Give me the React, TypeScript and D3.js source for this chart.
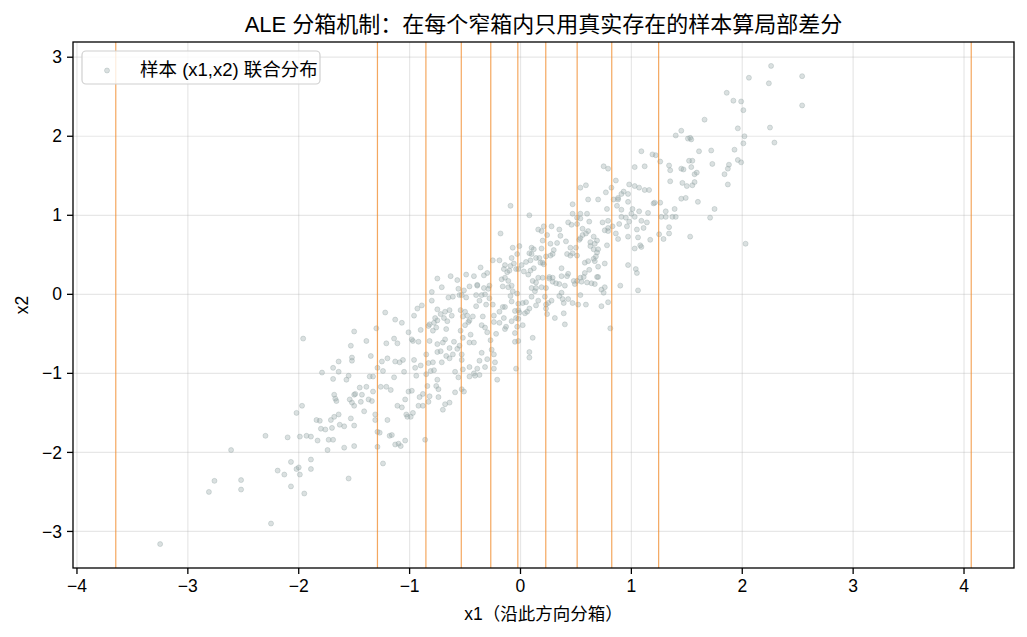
import React from "react";
import * as d3 from "d3";

// x1, x2 pairs
const samples: [number, number][] = [
  [-3.25,-3.16],[-2.25,-2.90],[-2.81,-2.50],[-2.76,-2.36],[-2.52,-2.35],[-2.52,-2.47],[-2.61,-1.97],[-2.30,-1.79],[-2.10,-1.81],[-1.99,-1.80],
  [-1.93,-1.79],[-1.89,-1.80],[-1.83,-1.85],[-1.74,-1.97],[-1.73,-1.84],[-1.69,-1.84],[-1.59,-1.94],[-1.50,-1.92],[-1.55,-2.33],[-2.07,-2.12],
  [-2.19,-2.23],[-2.13,-2.28],[-2.02,-2.21],[-2.00,-2.19],[-1.99,-2.28],[-1.89,-2.09],[-1.89,-2.21],[-2.07,-2.43],[-1.95,-2.52],[-1.96,-0.56],
  [-2.02,-1.50],[-1.97,-1.41],[-1.84,-1.59],[-1.81,-1.60],[-1.79,-0.99],[-1.80,-1.70],[-1.76,-1.71],[-1.71,-1.59],[-1.70,-1.69],[-1.68,-1.55],
  [-1.64,-1.52],[-1.63,-1.65],[-1.59,-1.67],[-1.53,-1.57],[-1.50,-1.66],[-1.69,-0.93],[-1.64,-0.85],[-1.64,-0.98],[-1.69,-1.07],[-1.57,-1.08],
  [-1.55,-1.03],[-1.52,-0.80],[-1.52,-0.84],[-1.50,-0.47],[-1.53,-0.65],[-1.68,-1.27],[-1.67,-1.32],[-1.66,-1.35],[-1.54,-1.33],[-1.52,-1.37],
  [-1.50,-1.41],[-1.50,-1.27],[-1.49,-1.26],[-1.45,-1.18],[-1.43,-1.27],[-1.44,-1.36],[-1.41,-1.48],[-1.39,-1.17],[-1.39,-0.59],[-1.37,-1.33],
  [-1.36,-1.04],[-1.35,-0.78],[-1.34,-1.35],[-1.33,-1.04],[-1.33,-1.23],[-1.31,-1.52],[-1.31,-1.59],[-1.30,-0.43],[-1.29,-0.93],[-1.29,-1.74],
  [-1.27,-1.75],[-1.29,-1.93],[-1.24,-2.14],[-1.26,-1.17],[-1.25,-0.85],[-1.24,-0.97],[-1.22,-0.23],[-1.21,-0.62],[-1.21,-1.17],[-1.20,-0.81],
  [-1.20,-1.59],[-1.17,-1.21],[-1.18,-1.79],[-1.16,-1.78],[-1.14,-0.56],[-1.14,-1.05],[-1.13,-0.32],[-1.13,-0.85],[-1.13,-1.90],[-1.11,-0.62],
  [-1.11,-1.41],[-1.10,-1.89],[-1.09,-0.86],[-1.08,-1.92],[-1.07,-0.36],[-1.07,-1.43],[-1.06,-0.83],[-1.05,-0.98],[-1.04,-1.85],[-1.04,-1.33],
  [-1.03,-1.52],[-1.02,-1.55],[-1.01,-0.48],[-1.01,-1.23],[-0.99,-1.55],[-0.98,-0.57],[-0.98,-1.22],[-0.97,-0.59],[-0.97,-1.50],[-0.96,-0.27],
  [-0.96,-0.83],[-0.95,-0.93],[-0.94,-1.03],[-0.93,-0.18],[-0.92,-0.60],[-0.92,-1.41],[-0.91,-1.30],[-0.90,-0.45],[-0.90,-0.90],[-0.89,-0.14],
  [-0.88,-1.41],[-0.88,-1.26],[-0.86,-1.84],[-0.85,-0.76],
  [0.75,1.62],[0.79,1.59],[1.03,1.61],[1.12,1.62],[1.26,1.68],[1.34,1.63],[1.35,1.57],[1.45,1.59],[1.47,1.58],[1.52,1.69],
  [1.55,1.69],[1.54,1.61],[1.57,1.52],[1.59,1.54],[1.73,1.65],[1.84,1.52],[1.87,1.39],[1.46,1.41],[1.50,1.37],[1.55,1.38],
  [1.57,1.42],[1.35,1.43],[1.49,1.22],[1.45,1.21],[1.60,1.17],[1.53,0.73],[1.71,0.97],[1.75,1.08],[1.26,1.16],[1.21,1.16],
  [1.20,1.15],[1.39,1.08],[1.31,1.05],[1.37,0.98],[1.40,0.98],[1.31,0.98],[1.27,0.98],[1.34,0.85],[1.34,0.77],[1.29,0.70],
  [1.25,0.76],[1.14,0.91],[1.15,1.03],[1.09,0.93],[1.07,1.05],[1.01,1.08],[1.00,1.02],[1.03,0.98],[1.07,1.35],[1.12,1.32],
  [1.16,1.32],[0.98,1.39],[1.03,1.37],[0.97,1.27],[0.93,1.30],[0.91,1.27],[0.88,1.20],[0.88,1.22],[0.86,1.44],[0.82,1.35],
  [0.77,1.29],[0.84,1.20],[0.87,1.12],[0.97,1.17],[0.91,1.07],[0.91,0.98],[0.95,0.97],[0.98,0.92],[0.96,0.86],[0.97,0.73],
  [0.89,0.89],[0.86,0.77],[0.88,0.70],[1.05,0.82],[1.11,0.84],[1.06,0.72],[1.03,0.58],[1.08,0.62],[1.09,0.60],[1.17,0.69],
  [0.97,0.37],[1.04,0.32],[1.05,0.27],[1.06,0.05],[0.90,0.11],[0.81,-0.43],[0.79,-0.10],[0.73,-0.15],[0.75,0.02],[0.76,0.09],
  [0.73,0.06],[0.76,0.39],[0.70,0.22],[0.69,0.22],[0.67,0.13],[0.64,0.14],[0.68,0.48],[0.67,0.42],[0.70,0.35],[0.69,0.53],
  [0.66,0.45],[0.61,0.42],[0.58,0.40],[0.62,0.31],[0.58,0.27],[0.57,0.22],[0.55,0.16],[0.54,0.21],[0.54,-0.01],[0.59,-0.13],
  [0.52,-0.13],[0.47,-0.11],[0.43,-0.06],[0.39,-0.11],[0.38,-0.06],[0.39,-0.24],[0.31,-0.30],[0.40,-0.38],[0.37,0.02],[0.35,-0.02],
  [0.28,-0.08],[0.25,-0.11],[0.23,-0.13],[0.23,-0.18],[0.24,-0.25],[0.22,-0.03],[0.19,0.09],[0.23,0.08],[0.26,0.20],[0.29,0.16],
  [0.32,0.14],[0.35,0.13],[0.40,0.11],[0.42,0.23],[0.37,0.23],[0.29,0.21],[0.26,0.22],[0.37,0.33],[0.43,0.26],[0.48,0.17],
  [0.49,0.13],[0.51,0.17],[0.60,0.15],[0.45,0.49],[0.47,0.52],[0.51,0.49],[0.50,0.59],[0.54,0.71],[0.53,0.69],[0.56,0.75],
  [0.59,0.77],[0.61,0.80],[0.63,0.66],[0.63,0.61],[0.67,0.64],[0.70,0.57],[0.66,0.57],[0.66,0.73],[0.62,0.92],[0.60,1.02],
  [0.54,1.02],[0.54,0.96],[0.51,0.97],[0.47,1.02],[0.43,0.91],[0.46,0.88],[0.47,1.14],[0.54,1.35],[0.59,1.38],[0.61,1.20],
  [0.70,1.20],[0.79,0.93],[0.78,1.08],[0.74,0.91],[0.79,0.84],[0.76,0.81],[0.79,0.80],[0.83,0.86],[0.78,0.62],[0.69,0.68],
  [0.56,0.83],[0.51,0.89],[0.45,0.59],[0.42,0.51],[0.41,0.67],[0.36,0.74],[0.35,0.82],[0.33,0.65],[0.30,0.56],[0.29,0.51],
  [0.27,0.49],[0.23,0.48],[0.21,0.38],[0.19,0.58],[0.20,0.68],[0.16,0.82],[0.19,0.80],[0.21,0.86],[0.28,0.86],[0.24,0.75],
  [0.27,0.64],[0.12,0.57],[0.10,0.59],[0.08,0.52],[0.10,0.51],[0.14,0.46],[0.17,0.46],[0.18,0.40],[0.20,0.40],[0.12,0.33],
  [0.09,0.30],[0.07,0.25],[0.11,0.17],[0.14,0.15],[0.16,0.21],[0.20,0.21],[0.14,0.08],[0.10,0.08],[0.13,0.04],[0.10,-0.03],
  [0.16,-0.08],[0.14,-0.14],[0.05,-0.10],[0.02,-0.11],[0.06,-0.22],[0.08,-0.18],[0.04,-0.24],[-0.01,-0.23],[-0.05,-0.21],[-0.02,-0.20],
  [-0.02,-0.12],[-0.04,-0.30],[-0.02,-0.31],[0.02,-0.39],[-0.03,-0.41],[-0.05,-0.49],[-0.05,-0.60],[-0.02,-0.59],[0.11,-0.55],[0.08,-0.73],
  [0.08,-0.80],[-0.04,-0.94],[-0.09,1.12],[0.08,1.00],[-0.18,0.77],[-0.07,0.59],[-0.01,0.61],[-0.03,0.51],[0.09,0.43],[0.05,0.41],
  [0.01,0.37],[0.03,0.29],[-0.02,0.32],[-0.08,0.46],[-0.06,0.39],[-0.04,0.32],[-0.09,0.36],[-0.10,0.30],[-0.14,0.37],[-0.15,0.32],
  [-0.12,0.28],[-0.14,0.21],[-0.17,0.19],[-0.16,0.10],[-0.11,0.09],[-0.11,0.17],[-0.08,0.11],[-0.07,0.04],[-0.09,-0.02],[-0.03,0.01],
  [-0.08,-0.09],[-0.14,-0.16],[-0.16,-0.16],[-0.19,-0.22],[-0.19,-0.36],[-0.15,-0.30],[-0.13,-0.41],[-0.08,-0.34],[-0.14,-0.44],[-0.22,-0.50],
  [-0.24,-0.35],[-0.24,-0.27],[-0.25,-0.13],[-0.28,-0.05],[-0.31,-0.13],[-0.35,-0.01],[-0.39,0.12],[-0.33,0.08],[-0.29,0.07],[-0.28,0.11],
  [-0.32,0.00],[-0.37,-0.08],[-0.33,0.24],[-0.36,0.34],[-0.30,0.27],[-0.25,0.43],[-0.19,0.43],[-0.40,-0.15],[-0.43,-0.28],[-0.34,-0.28],
  [-0.35,-0.39],[-0.32,-0.42],[-0.30,-0.48],[-0.27,-0.58],[-0.26,-0.70],[-0.24,-0.76],[-0.23,-0.86],[-0.24,-0.94],[-0.21,-1.08],[-0.30,-0.82],
  [-0.35,-0.74],[-0.37,-0.84],[-0.32,-0.92],[-0.39,-0.94],[-0.41,-1.03],[-0.46,-1.04],[-0.46,-0.92],[-0.42,-1.00],[-0.37,-1.02],[-0.42,-0.61],
  [-0.46,-0.61],[-0.45,-0.51],[-0.46,-0.33],[-0.48,-0.27],[-0.50,-0.22],[-0.54,-0.20],[-0.52,-0.28],[-0.47,-0.35],[-0.50,-0.39],[-0.54,-0.46],
  [-0.52,-0.55],[-0.55,-0.65],[-0.60,-0.60],[-0.57,-0.69],[-0.53,-0.76],[-0.53,-0.83],[-0.52,-0.95],[-0.56,-1.05],[-0.59,-0.98],[-0.53,-1.20],
  [-0.51,-1.23],[-0.59,-1.24],[-0.64,-1.37],[-0.68,-1.39],[-0.70,-1.46],[-0.74,-1.30],[-0.74,-1.20],[-0.75,-1.08],[-0.76,-1.16],[-0.78,-0.96],
  [-0.79,-0.86],[-0.71,-0.86],[-0.67,-0.78],[-0.64,-0.81],[-0.61,-0.76],[-0.64,-0.68],[-0.68,-0.57],[-0.70,-0.61],[-0.75,-0.73],[-0.72,-0.72],
  [-0.75,-0.63],[-0.76,-0.42],[-0.79,-0.46],[-0.78,-0.36],[-0.75,-0.33],[-0.77,-0.30],[-0.72,-0.25],[-0.68,-0.22],[-0.64,-0.20],[-0.62,-0.27],
  [-0.66,-0.34],[-0.69,-0.30],[-0.61,-0.03],[-0.65,-0.04],[-0.63,0.23],[-0.57,0.18],[-0.55,-0.01],[-0.53,-0.01],[-0.49,0.25],[-0.46,0.10],
  [-0.42,0.23],[-0.39,0.11],[-0.40,-0.01],[-0.49,-0.04],[-0.51,0.05],[-0.56,0.07],[-0.67,-0.44],[-0.75,-0.19],[-0.71,0.09],[-0.75,0.20],
  [-0.80,0.03],[-0.80,-0.08],[-0.82,-0.38],[-0.83,-0.40],[-0.82,-0.59],[-0.83,-0.87],[-0.85,-1.01],[-0.81,-0.97],[-0.84,-1.16],[-0.82,-1.29],
  [-0.83,-1.36],
  [2.26,2.89],[2.54,2.76],[2.06,2.74],[2.24,2.67],[1.86,2.55],[1.92,2.45],[1.99,2.44],[2.01,2.33],[2.54,2.39],[1.66,2.21],
  [1.96,2.10],[2.25,2.11],[2.02,2.00],[2.01,1.91],[2.29,1.92],[1.93,1.83],[1.96,1.70],[1.99,1.67],[1.88,1.64],[1.87,1.59],
  [2.03,0.64],[1.40,2.01],[1.45,2.07],[1.51,1.97],[1.53,1.98],[1.54,1.96],[1.61,1.81],[1.72,1.82],[1.09,1.81],[1.19,1.77],
  [1.22,1.76],
];

const binEdges = [-3.65, -1.29, -0.853, -0.534, -0.268, -0.024, 0.228, 0.511, 0.823, 1.246, 4.065];
const xTicks = [-4, -3, -2, -1, 0, 1, 2, 3, 4];
const yTicks = [-3, -2, -1, 0, 1, 2, 3];

const title = "ALE 分箱机制：在每个窄箱内只用真实存在的样本算局部差分";
const xLabel = "x1（沿此方向分箱）";
const yLabel = "x2";
const legendLabel = "样本 (x1,x2) 联合分布";

const W = 1027;
const H = 637;
const box = { left: 73, right: 1014, top: 42, bottom: 568 };
const FONT = '"Liberation Sans", "Noto Sans CJK SC", sans-serif';
const DOT = "#95a5a6";
const EDGE_LINE = "#f0892a";
const R = 2.5;

function padded(vals: number[]) {
  const [lo, hi] = d3.extent(vals) as [number, number];
  const p = (hi - lo) * 0.05;
  return [lo - p, hi + p];
}

export default function App() {
  const x = d3
    .scaleLinear()
    .domain(padded([...binEdges, ...samples.map((d) => d[0])]))
    .range([box.left, box.right]);
  const y = d3
    .scaleLinear()
    .domain(padded(samples.map((d) => d[1])))
    .range([box.bottom, box.top]);
  const fmt = d3.format("d");
  const midX = (box.left + box.right) / 2;
  const midY = (box.top + box.bottom) / 2;

  return (
    <svg
      width={W}
      height={H}
      style={{ position: "absolute", left: 0, top: 0, background: "#fff" }}
      fontFamily={FONT}
    >
      <text x={midX} y={32} textAnchor="middle" fontSize={22} fill="#000">
        {title}
      </text>

      {/* grid */}
      <g stroke="#b0b0b0" strokeOpacity={0.3} strokeWidth={1.2}>
        {xTicks.map((t) => (
          <line key={"gx" + t} x1={x(t)} x2={x(t)} y1={box.top} y2={box.bottom} />
        ))}
        {yTicks.map((t) => (
          <line key={"gy" + t} x1={box.left} x2={box.right} y1={y(t)} y2={y(t)} />
        ))}
      </g>

      {/* samples */}
      <g fill={DOT} fillOpacity={0.35} stroke={DOT} strokeOpacity={0.35} strokeWidth={1}>
        {samples.map((d, i) => (
          <circle key={i} cx={x(d[0])} cy={y(d[1])} r={R} />
        ))}
      </g>

      {/* bin edges */}
      <g stroke={EDGE_LINE} strokeOpacity={0.75} strokeWidth={1.2}>
        {binEdges.map((e, i) => (
          <line key={i} x1={x(e)} x2={x(e)} y1={box.top} y2={box.bottom} />
        ))}
      </g>

      {/* frame */}
      <rect
        x={box.left}
        y={box.top}
        width={box.right - box.left}
        height={box.bottom - box.top}
        fill="none"
        stroke="#000"
        strokeWidth={1.3}
      />

      {/* axes */}
      <g fontSize={17.5} fill="#000">
        {xTicks.map((t) => (
          <g key={"tx" + t}>
            <line x1={x(t)} x2={x(t)} y1={box.bottom} y2={box.bottom + 6} stroke="#000" strokeWidth={1.3} />
            <text x={x(t)} y={box.bottom + 24} textAnchor="middle">
              {fmt(t)}
            </text>
          </g>
        ))}
        {yTicks.map((t) => (
          <g key={"ty" + t}>
            <line x1={box.left - 6} x2={box.left} y1={y(t)} y2={y(t)} stroke="#000" strokeWidth={1.3} />
            <text x={box.left - 11} y={y(t)} dy="0.35em" textAnchor="end">
              {fmt(t)}
            </text>
          </g>
        ))}
        <text x={midX} y={620} textAnchor="middle">
          {xLabel}
        </text>
        <text transform={`translate(28,${midY}) rotate(-90)`} textAnchor="middle">
          {yLabel}
        </text>
      </g>

      {/* legend */}
      <g>
        <rect x={82} y={51} width={238} height={33} rx={4} fill="#fff" fillOpacity={0.8} stroke="#d0d0d0" strokeWidth={1.2} />
        <circle cx={107} cy={70.5} r={R} fill={DOT} fillOpacity={0.35} stroke={DOT} strokeOpacity={0.35} strokeWidth={1} />
        <text x={140} y={69.5} dy="0.35em" fontSize={18.5} fill="#000">
          {legendLabel}
        </text>
      </g>
    </svg>
  );
}
